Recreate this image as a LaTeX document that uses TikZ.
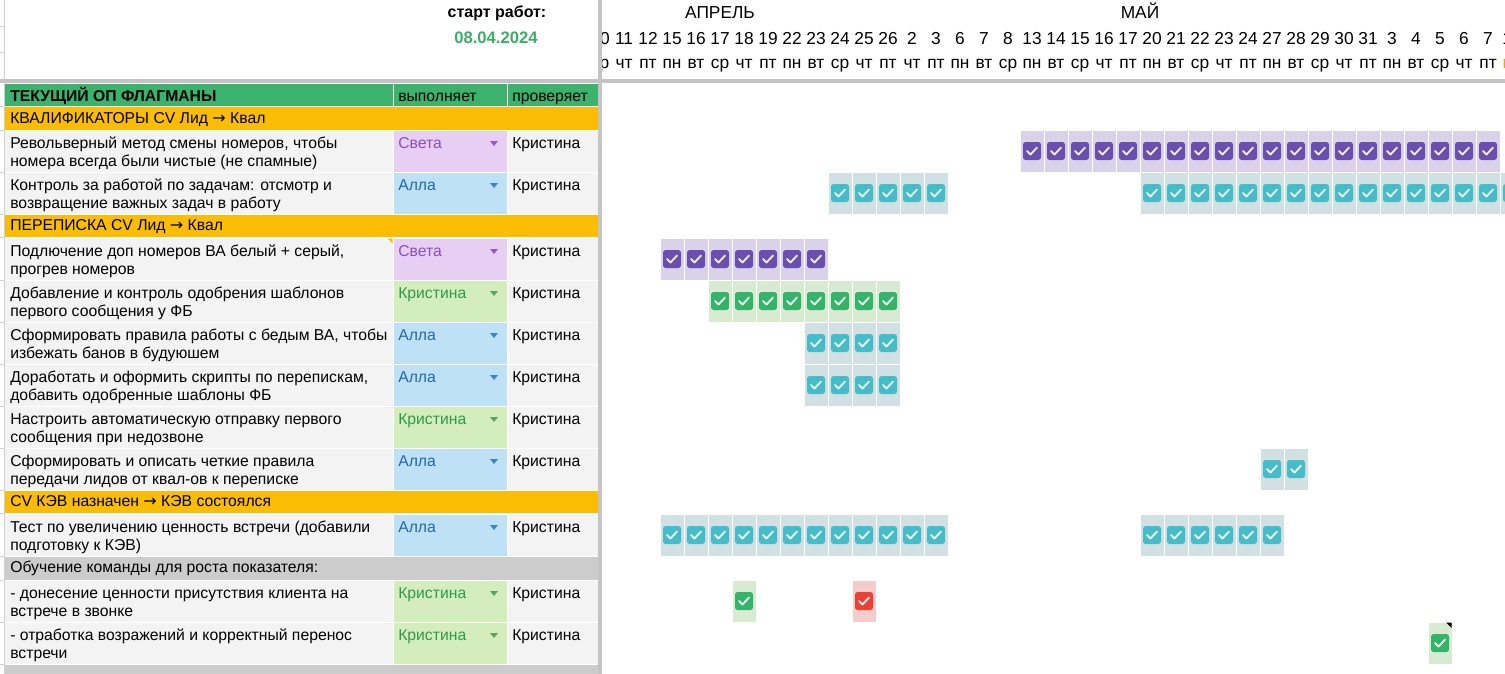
\documentclass[tikz,border=0pt]{standalone}
\usepackage{fontspec}
\setmainfont{Liberation Sans}
\newfontfamily\arrowfont{DejaVu Sans}
\definecolor{hdgreen}{HTML}{3BB36F}
\definecolor{secor}{HTML}{FBBC04}
\definecolor{rowbg}{HTML}{F3F3F3}
\definecolor{secgray}{HTML}{CCCCCC}
\definecolor{divgray}{HTML}{C4C4C4}
\definecolor{gridgray}{HTML}{D0D0D0}
\definecolor{dategreen}{HTML}{3AAE67}
\definecolor{svbg}{HTML}{E6CFF2}
\definecolor{svfg}{HTML}{8B4EBF}
\definecolor{svar}{HTML}{9A55CC}
\definecolor{albg}{HTML}{BFE1F6}
\definecolor{alfg}{HTML}{2166B3}
\definecolor{alar}{HTML}{3A86C8}
\definecolor{krbg}{HTML}{D4EDBC}
\definecolor{krfg}{HTML}{2F9A4A}
\definecolor{krar}{HTML}{5CA35C}
\definecolor{pucell}{HTML}{D9D2E9}
\definecolor{pubox}{HTML}{6A4FAE}
\definecolor{tecell}{HTML}{D0E0E3}
\definecolor{tebox}{HTML}{45BCC8}
\definecolor{grcell}{HTML}{D9EAD3}
\definecolor{grbox}{HTML}{34B36A}
\definecolor{rdcell}{HTML}{F4CCCC}
\definecolor{rdbox}{HTML}{E94235}
\definecolor{todayor}{HTML}{F4A300}
\newcommand\tfs{\fontsize{11.8}{14}\selectfont}
\newcommand\hfs{\fontsize{13}{15}\selectfont}
\newcommand\arr{{\arrowfont\fontsize{12}{14}\selectfont →}}
\tikzset{
  celltext/.style={anchor=base west, inner sep=0pt, font=\tfs},
  daytext/.style={anchor=base, inner sep=0pt, font=\hfs},
  checkmark/.style={draw=white, draw opacity=0.88, line width=1.4pt, line cap=round, line join=round},
}
% gantt cell with checkbox: #1 column, #2 row top, #3 type
\newcommand\chk[3]{%
  \fill[#3cell] ({588+24*#1+0.5},#2+0.5) rectangle ({588+24*#1+23.5},#2+41.5);
  \fill[#3box, rounded corners=2pt] ({600+24*#1-9},#2+12) rectangle ({600+24*#1+9},#2+30);
  \draw[checkmark] ({600+24*#1-5},#2+21) -- ({600+24*#1-1.5},#2+24.5) -- ({600+24*#1+5},#2+17.5);
}
% task row: #1 top, #2 id, #3 line1, #4 line2, #5 who key, #6 who text
\newcommand\taskrow[6]{%
  \fill[rowbg] (5,#1+0.5) rectangle (392.5,#1+41.5);
  \fill[#5bg] (393.5,#1+0.5) rectangle (506.5,#1+41.5);
  \fill[rowbg] (507.5,#1+0.5) rectangle (598,#1+41.5);
  \node[celltext] (#2a) at (10,#1+18) {#3};
  \node[celltext] (#2b) at (10,#1+36) {#4};
  \node[celltext, text=#5fg] (#2w) at (398,#1+18) {#6};
  \fill[#5ar] (490,#1+11) -- (498,#1+11) -- (494,#1+16) -- cycle;
  \node[celltext] (#2c) at (512,#1+18) {Кристина};
  \draw[gridgray] (0,#1+42) -- (4.5,#1+42);
}
% section row: #1 top, #2 bottom, #3 id, #4 text, #5 colour
\newcommand\secrow[5]{%
  \fill[#5] (5,#1+0.5) rectangle (598,#2-0.5);
  \node[celltext] (#3) at (10,#1+16.5) {#4};
  \draw[gridgray] (0,#2) -- (4.5,#2);
}
\begin{document}
\begin{tikzpicture}[x=0.75pt,y=-0.75pt]
\useasboundingbox (0,0) rectangle (1505,674);
\clip (0,0) rectangle (1505,674);
\fill[white] (0,0) rectangle (1505,674);

% ---------- gantt header ----------
\node[daytext] (apr) at (720,19) {АПРЕЛЬ};
\node[daytext] (may) at (1140,19) {МАЙ};
\foreach \i/\d/\w in {0/10/ср,1/11/чт,2/12/пт,3/15/пн,4/16/вт,5/17/ср,6/18/чт,7/19/пт,8/22/пн,9/23/вт,10/24/ср,11/25/чт,12/26/пт,13/2/чт,14/3/пт,15/6/пн,16/7/вт,17/8/ср,18/13/пн,19/14/вт,20/15/ср,21/16/чт,22/17/пт,23/20/пн,24/21/вт,25/22/ср,26/23/чт,27/24/пт,28/27/пн,29/28/вт,30/29/ср,31/30/чт,32/31/пт,33/3/пн,34/4/вт,35/5/ср,36/6/чт,37/7/пт}{
  \node[daytext] (d\i) at ({600+24*\i},45) {\d};
  \node[daytext] (w\i) at ({600+24*\i},69) {\w};
}
\node[daytext] (d38) at (1512,45) {10};
\node[daytext, text=todayor] (w38) at (1512,69) {пн};

% ---------- gantt cells ----------
\foreach \c in {18,...,37} {\chk{\c}{130}{pu}}
\foreach \c in {10,...,14} {\chk{\c}{172}{te}}
\foreach \c in {23,...,38} {\chk{\c}{172}{te}}
\foreach \c in {3,...,9} {\chk{\c}{238}{pu}}
\foreach \c in {5,...,12} {\chk{\c}{280}{gr}}
\foreach \c in {9,...,12} {\chk{\c}{322}{te}}
\foreach \c in {9,...,12} {\chk{\c}{364}{te}}
\foreach \c in {28,29} {\chk{\c}{448}{te}}
\foreach \c in {3,...,14} {\chk{\c}{514}{te}}
\foreach \c in {23,...,28} {\chk{\c}{514}{te}}
\chk{6}{580}{gr}
\chk{11}{580}{rd}
\chk{35}{622}{gr}
\fill[black] (1446,622.5) -- (1451.5,622.5) -- (1451.5,628) -- cycle;

% ---------- frozen left panel ----------
\fill[white] (0,0) rectangle (598,674);
\draw[gridgray] (4.5,0) -- (4.5,674);
\draw[gridgray] (0,26) -- (4.5,26);
\draw[gridgray] (0,52) -- (4.5,52);
\node[anchor=base, inner sep=0pt, font=\bfseries\fontsize{12}{14}\selectfont] (start) at (497,18) {старт работ:};
\node[anchor=base, inner sep=0pt, font=\bfseries\fontsize{12.5}{14}\selectfont, text=dategreen] (date) at (496,44) {08.04.2024};

% header row
\fill[hdgreen] (5,84) rectangle (598,106);
\draw[white, line width=0.75pt] (393,84) -- (393,106);
\draw[white, line width=0.75pt] (507,84) -- (507,106);
\node[celltext, font=\bfseries\tfs] (h1) at (10,101) {ТЕКУЩИЙ ОП ФЛАГМАНЫ};
\node[celltext] (h2) at (398,101) {выполняет};
\node[celltext] (h3) at (512,101) {проверяет};
\draw[gridgray] (0,106.5) -- (4.5,106.5);

\secrow{106.5}{130}{s1}{КВАЛИФИКАТОРЫ CV Лид \arr{} Квал}{secor}
\taskrow{130}{r1}{Револьверный метод смены номеров, чтобы}{номера всегда были чистые (не спамные)}{sv}{Света}
\taskrow{172}{r2}{Контроль за работой по задачам: отсмотр и}{возвращение важных задач в работу}{al}{Алла}
\secrow{214}{237.5}{s2}{ПЕРЕПИСКА CV Лид \arr{} Квал}{secor}
\taskrow{238}{r3}{Подлючение доп номеров ВА белый + серый,}{прогрев номеров}{sv}{Света}
\fill[secor] (387.5,238.5) -- (392.5,238.5) -- (392.5,243.5) -- cycle;
\taskrow{280}{r4}{Добавление и контроль одобрения шаблонов}{первого сообщения у ФБ}{kr}{Кристина}
\taskrow{322}{r5}{Сформировать правила работы с бедым ВА, чтобы}{избежать банов в будуюшем}{al}{Алла}
\taskrow{364}{r6}{Доработать и оформить скрипты по перепискам,}{добавить одобренные шаблоны ФБ}{al}{Алла}
\taskrow{406}{r7}{Настроить автоматическую отправку первого}{сообщения при недозвоне}{kr}{Кристина}
\taskrow{448}{r8}{Сформировать и описать четкие правила}{передачи лидов от квал-ов к переписке}{al}{Алла}
\secrow{490}{513.5}{s3}{CV КЭВ назначен \arr{} КЭВ состоялся}{secor}
\taskrow{514}{r9}{Тест по увеличению ценность встречи (добавили}{подготовку к КЭВ)}{al}{Алла}
\secrow{556}{580}{s4}{Обучение команды для роста показателя:}{secgray}
\taskrow{580}{r10}{- донесение ценности присутствия клиента на}{встрече в звонке}{kr}{Кристина}
\taskrow{622}{r11}{- отработка возражений и корректный перенос}{встречи}{kr}{Кристина}
\fill[secgray] (5,664.5) rectangle (598,674);

% ---------- frozen dividers ----------
\fill[divgray] (598,0) rectangle (602,674);
\fill[divgray] (0,79) rectangle (1505,83);
\end{tikzpicture}
\end{document}
